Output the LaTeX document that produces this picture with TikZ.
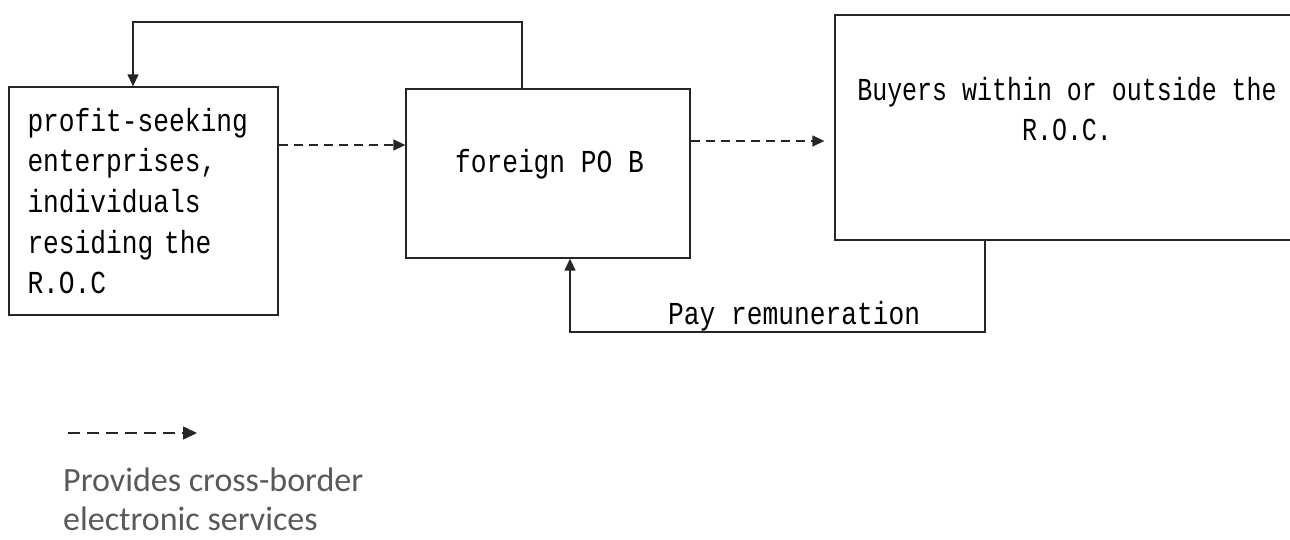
\documentclass[tikz,border=0pt]{standalone}
\usepackage{fontspec}
\usetikzlibrary{arrows.meta}
\newfontfamily\sims[FakeStretch=0.82]{Liberation Mono}
\newfontfamily\simsn[FakeStretch=0.78]{Liberation Mono}
\newfontfamily\calib{Carlito}
\definecolor{leggray}{RGB}{89,89,89}
\tikzset{
  boxnode/.style={draw=black!85, line width=1.3pt, rectangle, inner sep=0pt},
  conn/.style={draw=black!85, line width=1.3pt},
  tip/.style={-{Triangle[length=12pt,width=11pt]}},
  dasharrow/.style={conn, tip, dash pattern=on 9pt off 6pt},
  mainfont/.style={font=\sims\fontsize{32}{40.7}\selectfont},
}
\begin{document}
\begin{tikzpicture}[x=1pt,y=-1pt]
\useasboundingbox (0,0) rectangle (1290,539);
% boxes
\node[boxnode, minimum width=269pt, minimum height=228pt, mainfont,
      text width=232pt, align=left] (ent) at (143.5,201)
  {profit-seeking\\enterprises,\\individuals\\residing the\\R.O.C};
\node[boxnode, minimum width=284pt, minimum height=169pt] (fpob) at (548,173.5) {};
\node[mainfont, anchor=base] (fpobt) at (549.5,172) {foreign PO B};
\node[boxnode, minimum width=475pt, minimum height=225pt] (buy) at (1072.5,127.5) {};
\node[font=\simsn\fontsize{32}{40}\selectfont, align=center, anchor=base] (buyt) at (1067,140)
  {Buyers within or outside the\\R.O.C.};
% top loop connector
\coordinate (t1) at (522,22);
\coordinate (t2) at (133,22);
\draw[conn, tip] (t1 |- fpob.north) -- (t1) -- (t2) -- (t2 |- ent.north);
% dashed arrows
\coordinate (d1) at (0,145);
\draw[dasharrow] (ent.east |- d1) -- (fpob.west |- d1);
\coordinate (d2) at (0,141);
\draw[dasharrow, shorten >=10pt] (fpob.east |- d2) -- (buy.west |- d2);
% pay remuneration
\coordinate (p1) at (985,332);
\coordinate (p2) at (570,332);
\draw[conn, tip] (p1 |- buy.south) -- (p1) -- (p2) -- (p2 |- fpob.south);
\node[mainfont, anchor=base west, inner sep=0pt] (pay) at (668,324) {Pay remuneration};
% legend
\coordinate (l1) at (68,433);
\coordinate (l2) at (197,433);
\draw[conn, line width=1.6pt, -{Triangle[length=14pt,width=13pt]}, dash pattern=on 12pt off 7pt] (l1) -- (l2);
\node[font=\calib\fontsize{34}{39}\selectfont, text=leggray, align=left,
      anchor=base west, inner sep=0pt] (leg) at (63,530)
  {Provides cross-border\\electronic services};
\end{tikzpicture}
\end{document}
